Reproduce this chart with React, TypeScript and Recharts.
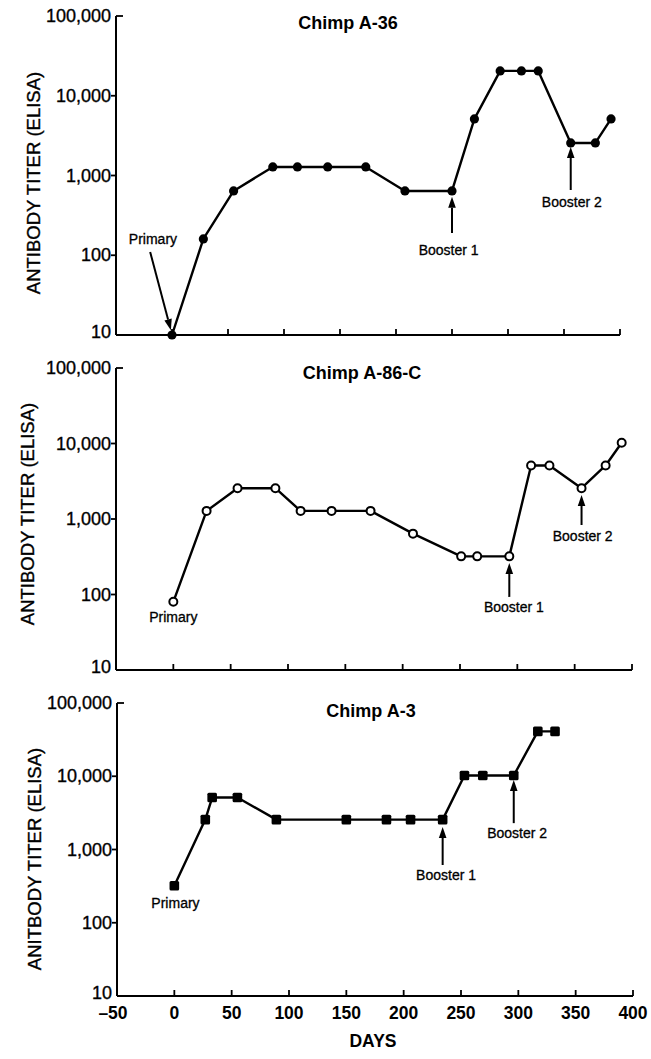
import React from 'react';
import { LineChart, Line, XAxis, YAxis, ReferenceLine, ReferenceDot, Customized } from 'recharts';

const FONT = '"Liberation Sans", Arial, Helvetica, sans-serif';

// Axis ticks
const xTicks = [-50, 0, 50, 100, 150, 200, 250, 300, 350, 400];
const yTicks = [10, 100, 1000, 10000, 100000];
const yTickLabels = ['10', '100', '1,000', '10,000', '100,000'];

// Chimp A-36 (filled circles)
const a36Days = [0, 28, 55, 90, 112, 139, 173, 208, 250, 270, 293, 312, 327, 356, 378, 392];
const a36Titer = [10, 160, 640, 1280, 1280, 1280, 1280, 640, 640, 5120, 20480, 20480, 20480, 2560, 2560, 5120];

// Chimp A-86-C (open circles)
const a86Days = [0, 29, 56, 89, 111, 138, 172, 209, 251, 265, 293, 312, 328, 356, 377, 391];
const a86Titer = [80, 1280, 2560, 2560, 1280, 1280, 1280, 640, 320, 320, 320, 5120, 5120, 2560, 5120, 10240];

// Chimp A-3 (filled squares)
const a3Days = [0, 27, 33, 55, 89, 150, 185, 206, 234, 253, 269, 296, 317, 332];
const a3Titer = [320, 2560, 5120, 5120, 2560, 2560, 2560, 2560, 2560, 10240, 10240, 10240, 40960, 40960];

// Annotations: [tailX, tailY, tipX, tipY]
const a36Arrows = [
  [-19.5, 110, -1, 11.5],
  [250, 190, 250, 540],
  [356, 658, 356, 2280],
];
const a36Notes: [number, number, string][] = [
  [-17, 160, 'Primary'],
  [247, 116, 'Booster 1'],
  [357, 466, 'Booster 2'],
];
const a86Arrows = [
  [293, 93, 293, 261],
  [356, 832, 356, 2080],
];
const a86Notes: [number, number, string][] = [
  [0, 50, 'Primary'],
  [297, 68, 'Booster 1'],
  [357, 596, 'Booster 2'],
];
const a3Arrows = [
  [234, 614, 234, 2030],
  [296, 2290, 296, 8900],
];
const a3Notes: [number, number, string][] = [
  [1, 186, 'Primary'],
  [237, 447, 'Booster 1'],
  [299, 1680, 'Booster 2'],
];

const toData = (days: number[], titer: number[]) => days.map((d, i) => ({ day: d, titer: titer[i] }));

const makeDot = (kind: string) => (p: any) => {
  const { cx, cy, index } = p;
  if (cx == null || cy == null) return <g key={`d${index}`} />;
  if (kind === 'filled') return <circle key={`d${index}`} cx={cx} cy={cy} r={4.6} fill="#000" stroke="none" />;
  if (kind === 'open') return <circle key={`d${index}`} cx={cx} cy={cy} r={4} fill="#fff" stroke="#000" strokeWidth={2} />;
  return <rect key={`d${index}`} x={cx - 4.8} y={cy - 4.8} width={9.6} height={9.6} rx={1.5} fill="#000" />;
};

const makeXTick = (showLabels: boolean) => (p: any) => {
  const { x, y, payload } = p;
  const v = payload.value;
  return (
    <g>
      {v !== -50 && <line x1={x} y1={y} x2={x} y2={y - 6} stroke="#000" strokeWidth={1.8} />}
      {showLabels && (
        <text x={v === -50 ? x - 4 : x} y={y + 17} textAnchor="middle" dominantBaseline="central"
          fontFamily={FONT} fontSize={17.5} fontWeight="bold" fill="#000">
          {v < 0 ? '\u2013' + Math.abs(v) : String(v)}
        </text>
      )}
    </g>
  );
};

const YTick = (p: any) => {
  const { x, y, payload } = p;
  const v = payload.value;
  const idx = yTicks.indexOf(v);
  return (
    <g>
      {v === 100000 ? (
        <line x1={x} y1={y} x2={x + 7} y2={y} stroke="#000" strokeWidth={1.8} />
      ) : v !== 10 ? (
        <line x1={x - 5} y1={y} x2={x} y2={y} stroke="#000" strokeWidth={1.8} />
      ) : null}
      <text x={x - 5} y={v === 10 ? y - 3 : y} textAnchor="end" dominantBaseline="central" fontFamily={FONT}
        fontSize={18} fill="#000" stroke="#000" strokeWidth={0.35}>
        {yTickLabels[idx]}
      </text>
    </g>
  );
};

const ArrowShape = (p: any) => {
  const { x1, y1, x2, y2 } = p;
  const dx = x2 - x1, dy = y2 - y1;
  const len = Math.sqrt(dx * dx + dy * dy) || 1;
  const ux = dx / len, uy = dy / len;
  const hl = 11, hw = 3.8;
  const bx = x2 - ux * hl, by = y2 - uy * hl;
  const pts = `${x2},${y2} ${bx - uy * hw},${by + ux * hw} ${bx + uy * hw},${by - ux * hw}`;
  return (
    <g>
      <line x1={x1} y1={y1} x2={bx} y2={by} stroke="#000" strokeWidth={2} />
      <polygon points={pts} fill="#000" />
    </g>
  );
};

const NoteShape = (text: string) => (p: any) => (
  <text x={p.cx} y={p.cy} textAnchor="middle" dominantBaseline="central" fontFamily={FONT}
    fontSize={14} fill="#000" stroke="#000" strokeWidth={0.3}>
    {text}
  </text>
);

type PanelProps = {
  top: number; height: number; margin: any; yWidth: number; xHeight: number;
  data: any[]; dot: string; title: string; titleX: number; titleY: number;
  yLabel: string; yLabelX: number; yLabelY: number; showXLabels: boolean;
  arrows: number[][]; notes: [number, number, string][]; daysLabel?: [number, number];
};

const Panel = (pp: PanelProps) => (
  <div style={{ position: 'absolute', left: 0, top: pp.top }}>
    <LineChart width={651} height={pp.height} data={pp.data} margin={pp.margin}>
      <XAxis dataKey="day" type="number" domain={[-50, 400]} ticks={xTicks} interval={0}
        height={pp.xHeight} tickSize={0} tickMargin={0} tickLine={false}
        axisLine={{ stroke: '#000', strokeWidth: 2 }} tick={makeXTick(pp.showXLabels)} />
      <YAxis dataKey="titer" scale="log" domain={[10, 100000]} ticks={yTicks} interval={0}
        width={pp.yWidth} tickSize={0} tickMargin={0} tickLine={false}
        axisLine={{ stroke: '#000', strokeWidth: 2 }} tick={YTick} />
      {pp.arrows.map((a, i) => (
        <ReferenceLine key={`a${i}`} segment={[{ x: a[0], y: a[1] }, { x: a[2], y: a[3] }]}
          shape={ArrowShape} ifOverflow="visible" />
      ))}
      {pp.notes.map((n, i) => (
        <ReferenceDot key={`n${i}`} x={n[0]} y={n[1]} r={1} shape={NoteShape(n[2])} ifOverflow="visible" />
      ))}
      <Line type="linear" dataKey="titer" stroke="#000" strokeWidth={2.4} strokeLinejoin="round"
        dot={makeDot(pp.dot)} activeDot={false} isAnimationActive={false} />
      <Customized component={() => (
        <g>
          <text x={pp.titleX} y={pp.titleY} textAnchor="middle" dominantBaseline="central"
            fontFamily={FONT} fontSize={18} fontWeight="bold" fill="#000">{pp.title}</text>
          <text x={pp.yLabelX} y={pp.yLabelY} textAnchor="middle" dominantBaseline="central"
            transform={`rotate(-90 ${pp.yLabelX} ${pp.yLabelY})`} fontFamily={FONT} fontSize={18.5}
            fill="#000" stroke="#000" strokeWidth={0.35}>{pp.yLabel}</text>
          {pp.daysLabel && (
            <text x={pp.daysLabel[0]} y={pp.daysLabel[1]} textAnchor="middle" dominantBaseline="central"
              fontFamily={FONT} fontSize={17.5} fontWeight="bold" fill="#000">DAYS</text>
          )}
        </g>
      )} />
    </LineChart>
  </div>
);

export default function App() {
  return (
    <div style={{ position: 'absolute', left: 0, top: 0, width: 651, height: 1059, background: '#fff' }}>
      <Panel top={0} height={360} margin={{ top: 16, right: 31, left: 0, bottom: 0 }} yWidth={116} xHeight={25}
        data={toData(a36Days, a36Titer)} dot="filled" title="Chimp A-36" titleX={348} titleY={23}
        yLabel="ANTIBODY TITER (ELISA)" yLabelX={33} yLabelY={183} showXLabels={false}
        arrows={a36Arrows} notes={a36Notes} />
      <Panel top={345} height={350} margin={{ top: 23, right: 19, left: 0, bottom: 0 }} yWidth={116} xHeight={25}
        data={toData(a86Days, a86Titer)} dot="open" title="Chimp A-86-C" titleX={362} titleY={28}
        yLabel="ANTIBODY TITER (ELISA)" yLabelX={27} yLabelY={169} showXLabels={false}
        arrows={a86Arrows} notes={a86Notes} />
      <Panel top={680} height={379} margin={{ top: 23, right: 18, left: 0, bottom: 0 }} yWidth={117} xHeight={63}
        data={toData(a3Days, a3Titer)} dot="square" title="Chimp A-3" titleX={371} titleY={31}
        yLabel="ANITBODY TITER (ELISA)" yLabelX={34} yLabelY={179} showXLabels={true}
        arrows={a3Arrows} notes={a3Notes} daysLabel={[373, 361]} />
    </div>
  );
}
